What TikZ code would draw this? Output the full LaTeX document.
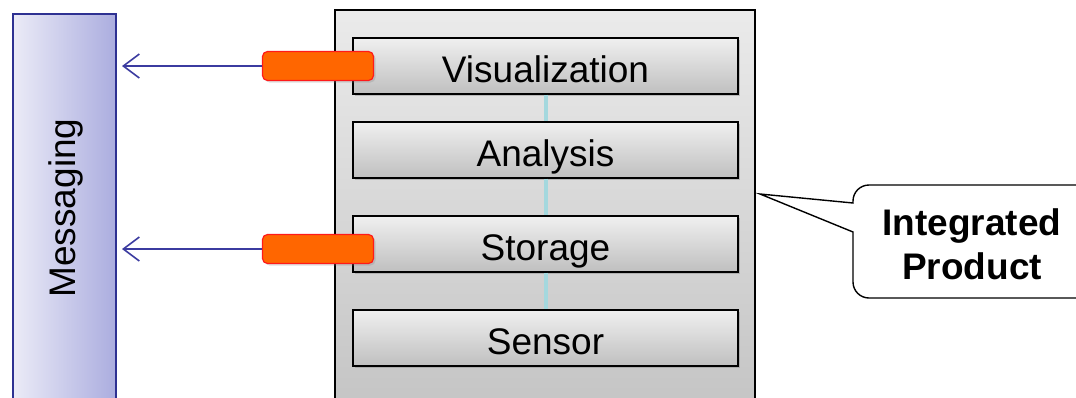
\documentclass[tikz,border=0pt]{standalone}
\usepackage{fontspec}
\setmainfont{Liberation Sans}
\usetikzlibrary{arrows.meta,shadows}
\definecolor{msgborder}{HTML}{2E3192}
\definecolor{msgleft}{HTML}{EBEBF7}
\definecolor{msgright}{HTML}{ABADDF}
\definecolor{arrowblue}{HTML}{3B3BA0}
\definecolor{plugfill}{HTML}{FF6600}
\definecolor{plugborder}{HTML}{FF1A1A}
\definecolor{busline}{HTML}{A4D8DE}
\tikzset{
  layerbox/.style={draw=black, line width=1.4pt, top color=white!94!black, bottom color=white!75!black,
    minimum width=385pt, minimum height=56pt, inner sep=0pt,
    text height=32pt, text depth=0pt,
    font=\fontsize{37}{44}\selectfont,
    drop shadow={shadow xshift=2pt, shadow yshift=-2pt, opacity=0.4}},
  plug/.style={draw=plugborder, line width=1.2pt, fill=plugfill, rounded corners=5pt,
    minimum width=111pt, minimum height=29pt, inner sep=0pt,
    drop shadow={shadow xshift=2pt, shadow yshift=-2pt, opacity=0.25}},
  msgarrow/.style={draw=arrowblue, line width=1.6pt, -{Straight Barb[length=16pt,width=24pt,line width=1.6pt]}},
}
\begin{document}
\begin{tikzpicture}[x=1pt,y=-1pt]
\useasboundingbox (0,0) rectangle (1076,397);
\clip (0,0) rectangle (1076,397);
% Messaging bar
\node[draw=msgborder, line width=1.5pt, left color=msgleft, right color=msgright,
  minimum width=103pt, minimum height=400pt, inner sep=0pt] (msg) at (64.5,214) {};
\node[rotate=90, font=\fontsize{37}{44}\selectfont, inner sep=0pt] (msglabel) at (66,208) {Messaging};
% Integrated product box
\node[draw=black, line width=1.4pt, top color=white!92!black, bottom color=white!77!black,
  minimum width=420pt, minimum height=400pt, inner sep=0pt] (prod) at (545,210) {};
% layers
\node[layerbox] (vis) at (545.5,66) {Visualization};
\node[layerbox] (ana) at (545.5,150) {Analysis};
\node[layerbox] (sto) at (545.5,244) {Storage};
\node[layerbox] (sen) at (545.5,338) {Sensor};
% bus line segments between layers
\draw[busline, line width=4pt] ([xshift=0.5pt]vis.south) -- ([xshift=0.5pt]ana.north);
\draw[busline, line width=4pt] ([xshift=0.5pt]ana.south) -- ([xshift=0.5pt]sto.north);
\draw[busline, line width=4pt] ([xshift=0.5pt]sto.south) -- ([xshift=0.5pt]sen.north);
% plugs and arrows
\coordinate (tip1) at (122,66);
\coordinate (tip2) at (122,249);
\node[plug] (plug1) at (318,66) {};
\node[plug] (plug2) at (318,249) {};
\draw[msgarrow] (plug1.west) -- (tip1);
\draw[msgarrow] (plug2.west) -- (tip2);
% callout
\coordinate (calltip) at (760,194);
\draw[line width=1.4pt, fill=white, line join=miter]
  (853,203) -- (calltip) -- (853,232) [rounded corners=16pt] -- (853,298) -- (1110,298) -- (1110,185) -- (853,185) [sharp corners] -- cycle;
\node[font=\bfseries\fontsize{37}{44}\selectfont, align=center, inner sep=0pt] (calltext) at (972,244) {Integrated\\Product};
\end{tikzpicture}
\end{document}
